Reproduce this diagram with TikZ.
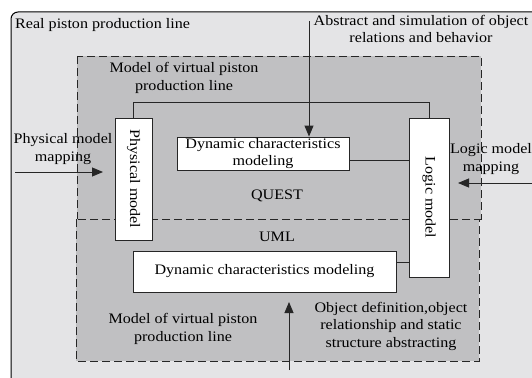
\documentclass[tikz,border=0pt]{standalone}
\usepackage{fontspec}
\setmainfont[FakeStretch=1.11]{Liberation Serif}
\usetikzlibrary{arrows.meta,calc}
\definecolor{lightg}{HTML}{E4E4E6}
\definecolor{darkg}{HTML}{C0C0C2}
\tikzset{
  region/.style={draw=black!85, line width=0.9pt, dash pattern=on 8pt off 4pt, fill=darkg},
  whitebox/.style={draw=black!85, line width=0.9pt, fill=white, inner sep=0pt, align=center},
  lbl/.style={inner sep=0pt, align=center},
  conn/.style={draw=black!85, line width=0.9pt},
  arr/.style={conn, -{Triangle[length=11pt,width=9pt]}}
}
\begin{document}
\begin{tikzpicture}[x=1pt,y=-1pt,font=\fontsize{14.5}{17.5}\selectfont]
\useasboundingbox (0,0) rectangle (532,377);
\begin{scope}
\clip (0,0) rectangle (532,377);
\draw[fill=lightg, line width=1pt, rounded corners=7pt] (11,12) rectangle (570,400);
\end{scope}
\path[region] (77,56) rectangle (481,219);
\path[region] (76,219) rectangle (479,361);

\node[lbl, anchor=west] (real) at (15,25) {Real piston production line};
\node[lbl] (mv1) at (184,78) {Model of virtual piston\\production line};
\node[lbl] (quest) at (277,196) {QUEST};
\node[lbl] (uml) at (277,237) {UML};
\node[lbl] (mv2) at (183,329) {Model of virtual piston\\production line};
\node[lbl] (abs) at (421,29) {Abstract and simulation of object\\relations and behavior};
\node[lbl] (pmm) at (63,149) {Physical model\\mapping};
\node[lbl] (lmm) at (491,159) {Logic model\\mapping};
\node[lbl] (obj) at (391,326) {Object definition,object\\relationship and static\\structure abstracting};

\node[whitebox, minimum width=37pt, minimum height=122pt] (phys) at (133.5,179) {\rotatebox{-90}{Physical model}};
\node[whitebox, minimum width=40pt, minimum height=159pt] (logic) at (429,197.5) {\rotatebox{-90}{Logic model}};
\node[whitebox, minimum width=172pt, minimum height=33pt] (dyn1) at (263,153.5) {Dynamic characteristics\\modeling};
\node[whitebox, minimum width=263pt, minimum height=41pt] (dyn2) at (264.5,271.5) {Dynamic characteristics modeling};

\draw[conn] (phys.north) -- ++(0,-15) -| (logic.north);
\draw[conn] ([yshift=-7pt]dyn1.east) -- ([yshift=-7pt]dyn1.east -| logic.west);
\draw[conn] ([yshift=9.5pt]dyn2.east) -- ([yshift=9.5pt]dyn2.east -| logic.west);

\coordinate (topstart) at (309,21);
\draw[arr] (topstart) -- (topstart |- dyn1.north);
\coordinate (botstart) at (289,370);
\coordinate (bottip) at (289,302);
\draw[arr] (botstart) -- (bottip);
\coordinate (pmstart) at (15,172);
\coordinate (pmtip) at (103,172);
\draw[arr] (pmstart) -- (pmtip);
\coordinate (lmstart) at (532,183);
\coordinate (lmtip) at (458,183);
\draw[arr] (lmstart) -- (lmtip);
\end{tikzpicture}
\end{document}
